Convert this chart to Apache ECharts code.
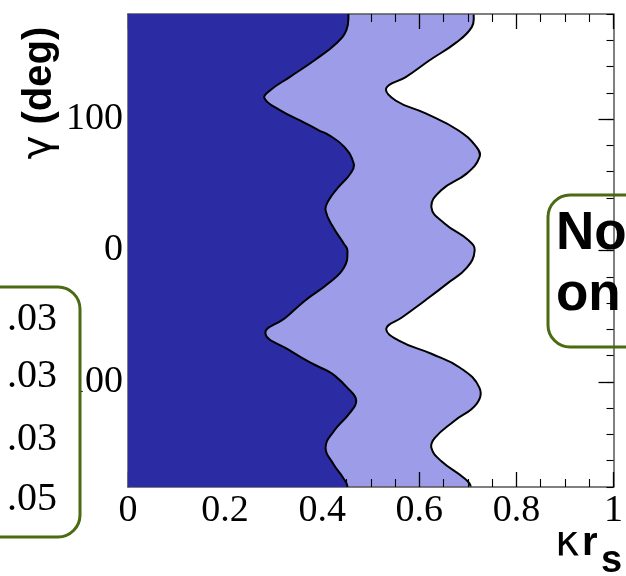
<!DOCTYPE html>
<html>
<head>
<meta charset="utf-8">
<script src="https://cdn.jsdelivr.net/npm/echarts@6/dist/echarts.min.js"></script>
<style>
html,body{margin:0;padding:0;background:#fff;}
#chart{width:626px;height:576px;}
</style>
</head>
<body>
<div id="chart"></div>
<script>
// ---- data ----
const gammaDark = [180, 168, 158, 145, 132, 122, 116, 107, 97, 91.5, 88, 79, 66, 59, 48, 38, 30.5, 17.5, 5, 0, -13, -25, -38, -51, -63, -76, -86, -91.5, -95, -104.5, -114, -124, -137, -150, -162.5, -173, -180];
const kappaDark = [0.454, 0.45, 0.43, 0.385, 0.333, 0.293, 0.281, 0.312, 0.365, 0.393, 0.413, 0.445, 0.465, 0.459, 0.433, 0.413, 0.407, 0.423, 0.445, 0.452, 0.445, 0.413, 0.365, 0.325, 0.283, 0.333, 0.379, 0.41, 0.425, 0.452, 0.47, 0.456, 0.425, 0.407, 0.423, 0.443, 0.452];

const gammaLight = [180, 170, 158, 145, 132, 123.5, 114, 104.5, 91.5, 78.6, 71, 58.7, 45.8, 32.8, 20.6, 7.6, 0, -13, -25, -38, -51, -59.5, -68.6, -78.6, -89.2, -104.5, -116.7, -129.7, -142.6, -150.3, -160.2, -173.2, -180];
const kappaLight = [0.712, 0.708, 0.675, 0.622, 0.572, 0.532, 0.552, 0.612, 0.68, 0.718, 0.724, 0.698, 0.645, 0.625, 0.652, 0.702, 0.714, 0.698, 0.658, 0.612, 0.564, 0.532, 0.558, 0.625, 0.684, 0.724, 0.718, 0.672, 0.632, 0.625, 0.645, 0.692, 0.706];

const xRange = [0, 1];
const yRange = [-180, 180];
const yLabelValues = [-100, 0, 100];
const yMajorTicks = [-100, 0, 100];
const boxValues = ['.03', '.03', '.03', '.05'];
const boxNote = ['No', 'on'];

const DARK = '#2b2ba3';
const LIGHT = '#9c9ce8';
const SMOOTH = 0.45;

function regionRender(kappa, gamma, fill) {
  return function (params, api) {
    if (params.dataIndex !== 0) return null;
    const cs = params.coordSys;
    const n = gamma.length;
    const edge = [];
    edge.push(api.coord([kappa[0], yRange[1] + 60]));
    for (let i = 0; i < n; i++) edge.push(api.coord([kappa[i], gamma[i]]));
    edge.push(api.coord([kappa[n - 1], yRange[0] - 60]));
    const poly = edge.slice();
    poly.push(api.coord([xRange[0] - 0.3, yRange[0] - 60]));
    poly.push(api.coord([xRange[0] - 0.3, yRange[1] + 60]));
    return {
      type: 'group',
      clipPath: { type: 'rect', shape: { x: cs.x, y: cs.y, width: cs.width, height: cs.height } },
      children: [
        { type: 'polygon', shape: { points: poly, smooth: SMOOTH }, style: { fill: fill, stroke: null } },
        { type: 'polyline', shape: { points: edge, smooth: SMOOTH }, style: { fill: null, stroke: '#000', lineWidth: 2 } }
      ]
    };
  };
}

const chart = echarts.init(document.getElementById('chart'), null, { renderer: 'canvas' });

const frameLine = { show: true, onZero: false, lineStyle: { color: '#555', width: 1.5 } };

const option = {
  animation: false,
  backgroundColor: '#fff',
  grid: { left: 128, top: 14, width: 495, height: 473, containLabel: false },
  xAxis: [
    {
      type: 'value', min: xRange[0], max: xRange[1], interval: 0.2, position: 'bottom', z: 2,
      axisLine: frameLine,
      axisTick: { show: true, inside: true, length: 15, lineStyle: { color: '#000', width: 1.3 } },
      minorTick: { show: true, splitNumber: 4, length: 8, lineStyle: { color: '#000', width: 1.1 } },
      splitLine: { show: false },
      axisLabel: { fontFamily: 'Liberation Serif', fontSize: 38, color: '#000', margin: 5 }
    },
    {
      type: 'value', min: xRange[0], max: xRange[1], interval: 0.2, position: 'top', z: 2,
      axisLine: frameLine,
      axisTick: { show: true, inside: true, length: 15, lineStyle: { color: '#000', width: 1.3 } },
      minorTick: { show: true, splitNumber: 4, length: 8, lineStyle: { color: '#000', width: 1.1 } },
      splitLine: { show: false },
      axisLabel: { show: false }
    }
  ],
  yAxis: [
    {
      type: 'value', min: yRange[0], max: yRange[1], interval: 20, position: 'left', z: 2,
      axisLine: frameLine,
      axisTick: { show: false },
      splitLine: { show: false },
      axisLabel: {
        interval: 0, fontFamily: 'Liberation Serif', fontSize: 38, color: '#000', margin: 5,
        formatter: function (v) { return yLabelValues.indexOf(v) >= 0 ? String(v) : ''; }
      }
    },
    {
      type: 'value', min: yRange[0], max: yRange[1], interval: 20, position: 'right', z: 2,
      axisLine: frameLine,
      axisTick: { show: true, inside: true, length: 7, lineStyle: { color: '#000', width: 1.1 } },
      splitLine: { show: false },
      axisLabel: { show: false }
    },
    {
      type: 'value', min: yRange[0], max: yRange[1], interval: 20, position: 'right', z: 2,
      axisLine: { show: false, onZero: false },
      axisTick: { show: true, inside: true, length: 15, customValues: yMajorTicks, lineStyle: { color: '#000', width: 1.3 } },
      splitLine: { show: false },
      axisLabel: { show: false }
    }
  ],
  series: [
    {
      type: 'custom', z: 1, xAxisIndex: 0, yAxisIndex: 0,
      renderItem: regionRender(kappaLight, gammaLight, LIGHT),
      data: gammaLight.map((g, i) => [kappaLight[i], g]),
      encode: { x: 0, y: 1 }, silent: true
    },
    {
      type: 'custom', z: 3, xAxisIndex: 0, yAxisIndex: 0,
      renderItem: regionRender(kappaDark, gammaDark, DARK),
      data: gammaDark.map((g, i) => [kappaDark[i], g]),
      encode: { x: 0, y: 1 }, silent: true
    }
  ],
  graphic: [
    // y axis title
    {
      type: 'text', x: 40, y: 93, rotation: Math.PI / 2, z: 10,
      style: {
        text: '{g|γ}{b| (deg)}',
        rich: {
          g: { fontFamily: 'DejaVu Sans', fontSize: 40, fill: '#000' },
          b: { fontFamily: 'Liberation Sans', fontWeight: 'bold', fontSize: 40, fill: '#000' }
        },
        align: 'center', verticalAlign: 'middle'
      }
    },
    // x axis title: κ r_s
    { type: 'text', x: 555, y: 544, z: 10, style: { text: 'κ', fontFamily: 'DejaVu Sans', fontSize: 42, fill: '#000', align: 'left', verticalAlign: 'middle' } },
    { type: 'text', x: 582, y: 544, z: 10, style: { text: 'r', fontFamily: 'Liberation Sans', fontWeight: 'bold', fontSize: 40, fill: '#000', align: 'left', verticalAlign: 'middle' } },
    { type: 'text', x: 601, y: 562, z: 10, style: { text: 's', fontFamily: 'Liberation Sans', fontWeight: 'bold', fontSize: 38, fill: '#000', align: 'left', verticalAlign: 'middle' } },
    // left green box
    { type: 'rect', z: 10, shape: { x: -30, y: 287, width: 110, height: 250, r: 22 }, style: { fill: '#fff', stroke: '#4a6b12', lineWidth: 3 } },
    { type: 'text', x: 57, y: 319, z: 11, style: { text: boxValues[0], fontFamily: 'Liberation Serif', fontSize: 40, fill: '#000', align: 'right', verticalAlign: 'middle' } },
    { type: 'text', x: 57, y: 376, z: 11, style: { text: boxValues[1], fontFamily: 'Liberation Serif', fontSize: 40, fill: '#000', align: 'right', verticalAlign: 'middle' } },
    { type: 'text', x: 57, y: 439, z: 11, style: { text: boxValues[2], fontFamily: 'Liberation Serif', fontSize: 40, fill: '#000', align: 'right', verticalAlign: 'middle' } },
    { type: 'text', x: 57, y: 499, z: 11, style: { text: boxValues[3], fontFamily: 'Liberation Serif', fontSize: 40, fill: '#000', align: 'right', verticalAlign: 'middle' } },
    // right green box
    { type: 'rect', z: 10, shape: { x: 548, y: 195, width: 120, height: 152, r: 22 }, style: { fill: 'rgba(255,255,255,0)', stroke: '#4a6b12', lineWidth: 3 } },
    { type: 'text', x: 556, y: 234, z: 11, style: { text: boxNote[0], fontFamily: 'Liberation Sans', fontWeight: 'bold', fontSize: 53, fill: '#000', align: 'left', verticalAlign: 'middle' } },
    { type: 'text', x: 556, y: 295, z: 11, style: { text: boxNote[1], fontFamily: 'Liberation Sans', fontWeight: 'bold', fontSize: 53, fill: '#000', align: 'left', verticalAlign: 'middle' } }
  ]
};

chart.setOption(option);
</script>
</body>
</html>
